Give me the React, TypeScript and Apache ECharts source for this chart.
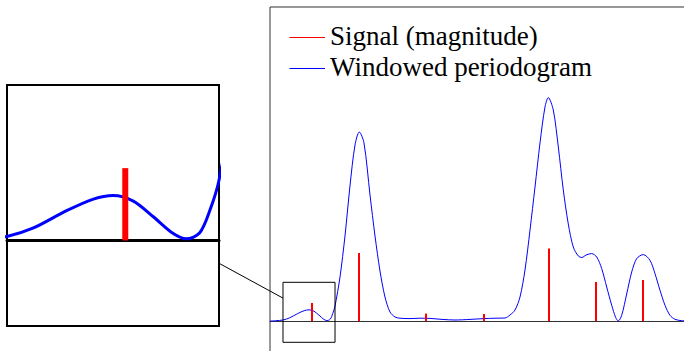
import React, { useEffect, useRef } from "react";
import * as echarts from "echarts";

// Frequency bins (arbitrary units) and windowed periodogram
const periodogramFreq = [
  0, 1.4, 3.02, 4.53, 6.42, 7.95, 9.07, 10.23, 11.37, 12.51, 13.26, 14.02, 14.6,
  15.12, 16.28, 17.44, 18.6, 19.77, 20.77, 21.86, 23.26, 24.42, 25.58, 26.74,
  27.91, 29.07, 30.23, 32.56, 34.88, 37.21, 40.0, 43.02, 46.51, 49.77, 52.33,
  54.65, 55.81, 56.98, 58.14, 59.3, 60.47, 61.63, 62.79, 63.95, 64.72, 65.88,
  67.05, 68.21, 69.37, 70.53, 71.7, 72.56, 73.49, 74.81, 75.98, 77.14, 78.3,
  79.47, 80.4, 81.0, 81.79, 82.95, 84.12, 85.28, 86.81, 88.37, 89.53, 90.7,
  91.86, 93.02, 94.19, 95.74, 97.67,
];
const periodogramValue = [
  0, 0.003, 0.01, 0.031, 0.074, 0.103, 0.112, 0.098, 0.059, 0.017, 0.004, 0.019,
  0.075, 0.15, 0.44, 0.85, 1.35, 1.76, 1.89, 1.78, 1.26, 0.85, 0.5, 0.24, 0.09,
  0.04, 0.028, 0.024, 0.028, 0.026, 0.016, 0.01, 0.016, 0.024, 0.028, 0.03,
  0.06, 0.11, 0.24, 0.51, 0.91, 1.34, 1.78, 2.14, 2.234, 2.11, 1.74, 1.31, 0.97,
  0.74, 0.65, 0.635, 0.66, 0.674, 0.64, 0.524, 0.34, 0.157, 0.034, 0.0, 0.057,
  0.27, 0.49, 0.624, 0.664, 0.607, 0.474, 0.307, 0.157, 0.057, 0.017, 0.003, 0,
];

// Signal components (magnitude)
const signalFreq = [9.77, 20.7, 36.28, 49.77, 64.88, 75.81, 86.74];
const signalMag = [0.18, 0.68, 0.074, 0.07, 0.725, 0.39, 0.41];

const legendLabels = ["Signal (magnitude)", "Windowed periodogram"];

// Axis ranges
const mainXRange = [0, 100];
const mainYRange = [-0.6, 3.14];
const zoomXRange = [3.02, 15.12];
const zoomYRange = [-0.213, 0.387];

const BLUE = "#0000ff";
const RED = "#ff0000";
const SERIF = "'Liberation Serif', 'DejaVu Serif', 'Times New Roman', serif";

export default function App() {
  const ref = useRef<HTMLDivElement>(null);

  useEffect(() => {
    if (!ref.current) return;
    const chart = echarts.init(ref.current, null, { renderer: "svg" });

    const curve = periodogramFreq.map((f, i) => [f, periodogramValue[i]]);
    const stems = signalFreq.map((f, i) => [f, signalMag[i]]);

    const stemRenderer = (width: number) => (params: any, api: any) => {
      const x = api.value(0);
      const y = api.value(1);
      const p0 = api.coord([x, 0]);
      const p1 = api.coord([x, y]);
      return {
        type: "line",
        shape: { x1: p0[0], y1: p0[1], x2: p1[0], y2: p1[1] },
        style: { stroke: RED, lineWidth: width, lineCap: "butt" },
      };
    };

    const insetRect = { left: 7, top: 85, width: 212, height: 241 };

    chart.setOption({
      animation: false,
      textStyle: { fontFamily: SERIF },
      grid: [
        {
          left: 270,
          top: 7,
          width: 430,
          height: 374,
          show: true,
          borderColor: "#333",
          borderWidth: 1,
        },
        {
          left: insetRect.left,
          top: insetRect.top,
          width: insetRect.width,
          height: insetRect.height,
          show: true,
          borderColor: "#000",
          borderWidth: 2,
        },
      ],
      xAxis: [
        {
          type: "value",
          gridIndex: 0,
          min: mainXRange[0],
          max: mainXRange[1],
          axisLine: { show: true, onZero: true, lineStyle: { color: "#333", width: 1 } },
          axisTick: { show: false },
          axisLabel: { show: false },
          splitLine: { show: false },
        },
        {
          type: "value",
          gridIndex: 1,
          min: zoomXRange[0],
          max: zoomXRange[1],
          axisLine: { show: true, onZero: true, lineStyle: { color: "#000", width: 3 } },
          axisTick: { show: false },
          axisLabel: { show: false },
          splitLine: { show: false },
        },
      ],
      yAxis: [
        {
          type: "value",
          gridIndex: 0,
          min: mainYRange[0],
          max: mainYRange[1],
          show: false,
          splitLine: { show: false },
        },
        {
          type: "value",
          gridIndex: 1,
          min: zoomYRange[0],
          max: zoomYRange[1],
          show: false,
          splitLine: { show: false },
        },
      ],
      series: [
        {
          name: legendLabels[1],
          type: "line",
          xAxisIndex: 0,
          yAxisIndex: 0,
          data: curve,
          showSymbol: false,
          smooth: 0.3,
          clip: true,
          lineStyle: { color: BLUE, width: 1 },
          z: 2,
        },
        {
          name: legendLabels[0],
          type: "custom",
          xAxisIndex: 0,
          yAxisIndex: 0,
          data: stems,
          clip: true,
          renderItem: stemRenderer(2),
          z: 3,
        },
        {
          type: "line",
          xAxisIndex: 1,
          yAxisIndex: 1,
          data: curve,
          showSymbol: false,
          smooth: 0.3,
          clip: true,
          lineStyle: { color: BLUE, width: 3 },
          z: 2,
        },
        {
          type: "custom",
          xAxisIndex: 1,
          yAxisIndex: 1,
          data: stems,
          clip: true,
          renderItem: stemRenderer(6),
          z: 3,
        },
      ],
    });

    // Spy rectangle in the main plot and connector line between centres
    const tl = chart.convertToPixel({ gridIndex: 0 }, [zoomXRange[0], zoomYRange[1]]) as number[];
    const br = chart.convertToPixel({ gridIndex: 0 }, [zoomXRange[1], zoomYRange[0]]) as number[];
    const r2 = { x: tl[0], y: tl[1], w: br[0] - tl[0], h: br[1] - tl[1] };
    const c1 = [insetRect.left + insetRect.width / 2, insetRect.top + insetRect.height / 2];
    const c2 = [r2.x + r2.w / 2, r2.y + r2.h / 2];
    const dx = c2[0] - c1[0];
    const dy = c2[1] - c1[1];
    const t1 = Math.min(insetRect.width / 2 / Math.abs(dx), insetRect.height / 2 / Math.abs(dy));
    const t2 = 1 - Math.min(r2.w / 2 / Math.abs(dx), r2.h / 2 / Math.abs(dy));

    const textStyle = {
      fill: "#000",
      fontFamily: SERIF,
      fontSize: 27,
      align: "left",
      verticalAlign: "middle",
    };

    chart.setOption({
      graphic: {
        elements: [
          {
            type: "rect",
            shape: { x: r2.x, y: r2.y, width: r2.w, height: r2.h },
            style: { fill: "none", stroke: "#000", lineWidth: 1 },
            z: 10,
          },
          {
            type: "line",
            shape: { x1: c1[0] + dx * t1, y1: c1[1] + dy * t1, x2: c1[0] + dx * t2, y2: c1[1] + dy * t2 },
            style: { stroke: "#000", lineWidth: 1 },
            z: 10,
          },
          {
            type: "line",
            shape: { x1: 289.5, y1: 37.5, x2: 325, y2: 37.5 },
            style: { stroke: RED, lineWidth: 1 },
            z: 10,
          },
          {
            type: "line",
            shape: { x1: 289.5, y1: 68.5, x2: 325, y2: 68.5 },
            style: { stroke: BLUE, lineWidth: 1 },
            z: 10,
          },
          {
            type: "text",
            x: 330,
            y: 36,
            z: 10,
            style: { ...textStyle, text: legendLabels[0] },
          },
          {
            type: "text",
            x: 330,
            y: 67,
            z: 10,
            style: { ...textStyle, text: legendLabels[1] },
          },
        ],
      },
    });

    return () => chart.dispose();
  }, []);

  return (
    <div
      style={{
        position: "absolute",
        left: 0,
        top: 0,
        width: 684,
        height: 351,
        overflow: "hidden",
        background: "#fff",
      }}
    >
      <div ref={ref} style={{ width: 720, height: 420 }} />
    </div>
  );
}
